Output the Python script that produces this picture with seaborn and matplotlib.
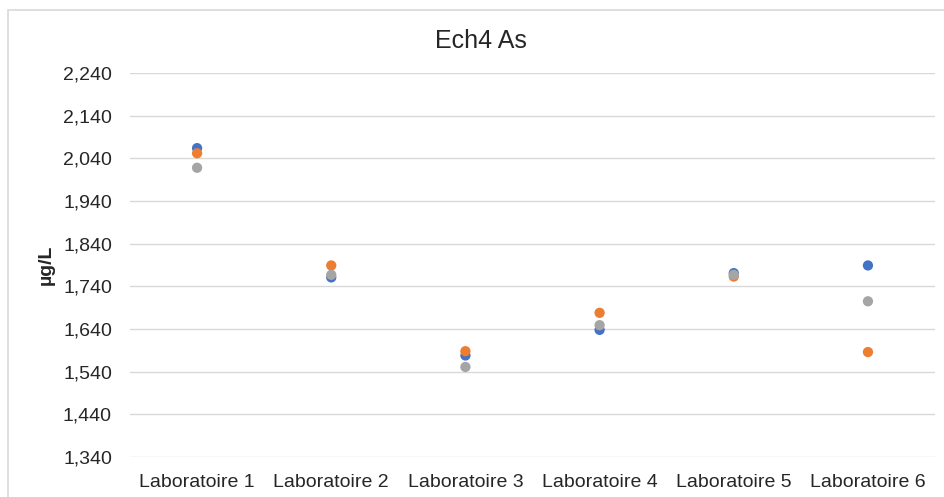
import pandas as pd
import matplotlib.pyplot as plt
import matplotlib.ticker as mticker
from matplotlib.patches import Rectangle
import seaborn as sns

# values (µg/L)
labs = ["Laboratoire 1", "Laboratoire 2", "Laboratoire 3",
        "Laboratoire 4", "Laboratoire 5", "Laboratoire 6"]
serie1 = [2064, 1761, 1578, 1638, 1771, 1789]   # blue
serie2 = [2052, 1789, 1588, 1678, 1763, 1586]   # orange
serie3 = [2018, 1767, 1551, 1649, 1767, 1705]   # grey
series_names = ["Série1", "Série2", "Série3"]
colors = ["#4472C4", "#ED7D31", "#A5A5A5"]

y_ticks = list(range(1340, 2241, 100))


def main():
    df = pd.DataFrame({
        "labo": labs * 3,
        "valeur": serie1 + serie2 + serie3,
        "serie": [s for s in series_names for _ in labs],
    })

    sns.set_theme(style="white")
    plt.rcParams["font.family"] = ["Liberation Sans", "DejaVu Sans"]

    fig = plt.figure(figsize=(9.44, 4.97), dpi=100)
    ax = fig.add_axes([0.1377, 0.0805, 0.8528, 0.7725])

    sns.stripplot(data=df, x="labo", y="valeur", hue="serie",
                  hue_order=series_names, palette=colors, order=labs,
                  jitter=False, dodge=False, size=7.4, linewidth=0,
                  legend=False, ax=ax, zorder=3)

    ax.set_ylim(1340, 2240)
    ax.set_xlim(-0.5, 5.5)
    ax.set_yticks(y_ticks)
    ax.yaxis.set_major_formatter(mticker.StrMethodFormatter("{x:,.0f}"))
    ax.grid(axis="y", color="#D9D9D9", linewidth=1)
    ax.set_axisbelow(True)
    for side in ["top", "right", "left", "bottom"]:
        ax.spines[side].set_visible(False)
    ax.tick_params(axis="both", length=0, labelsize=14, colors="#262626")
    ax.tick_params(axis="x", pad=12)
    ax.tick_params(axis="y", pad=13)

    ax.set_xlabel("")
    ax.set_ylabel("µg/L", fontsize=14, fontweight="bold", color="#262626",
                  labelpad=6)
    # title centred on the whole chart area, as in Excel
    fig.text(481 / 944, 1 - 41 / 497, "Ech4 As", fontsize=18,
             color="#262626", ha="center", va="center")

    # light frame around the chart area, like the Excel chart border
    fig.patches.append(Rectangle((8 / 944, -0.05), 1.2, 1.05 - 10 / 497,
                                 transform=fig.transFigure, fill=False,
                                 edgecolor="#D9D9D9", linewidth=1.2))

    fig.savefig("out.png", dpi=100)


if __name__ == "__main__":
    main()
